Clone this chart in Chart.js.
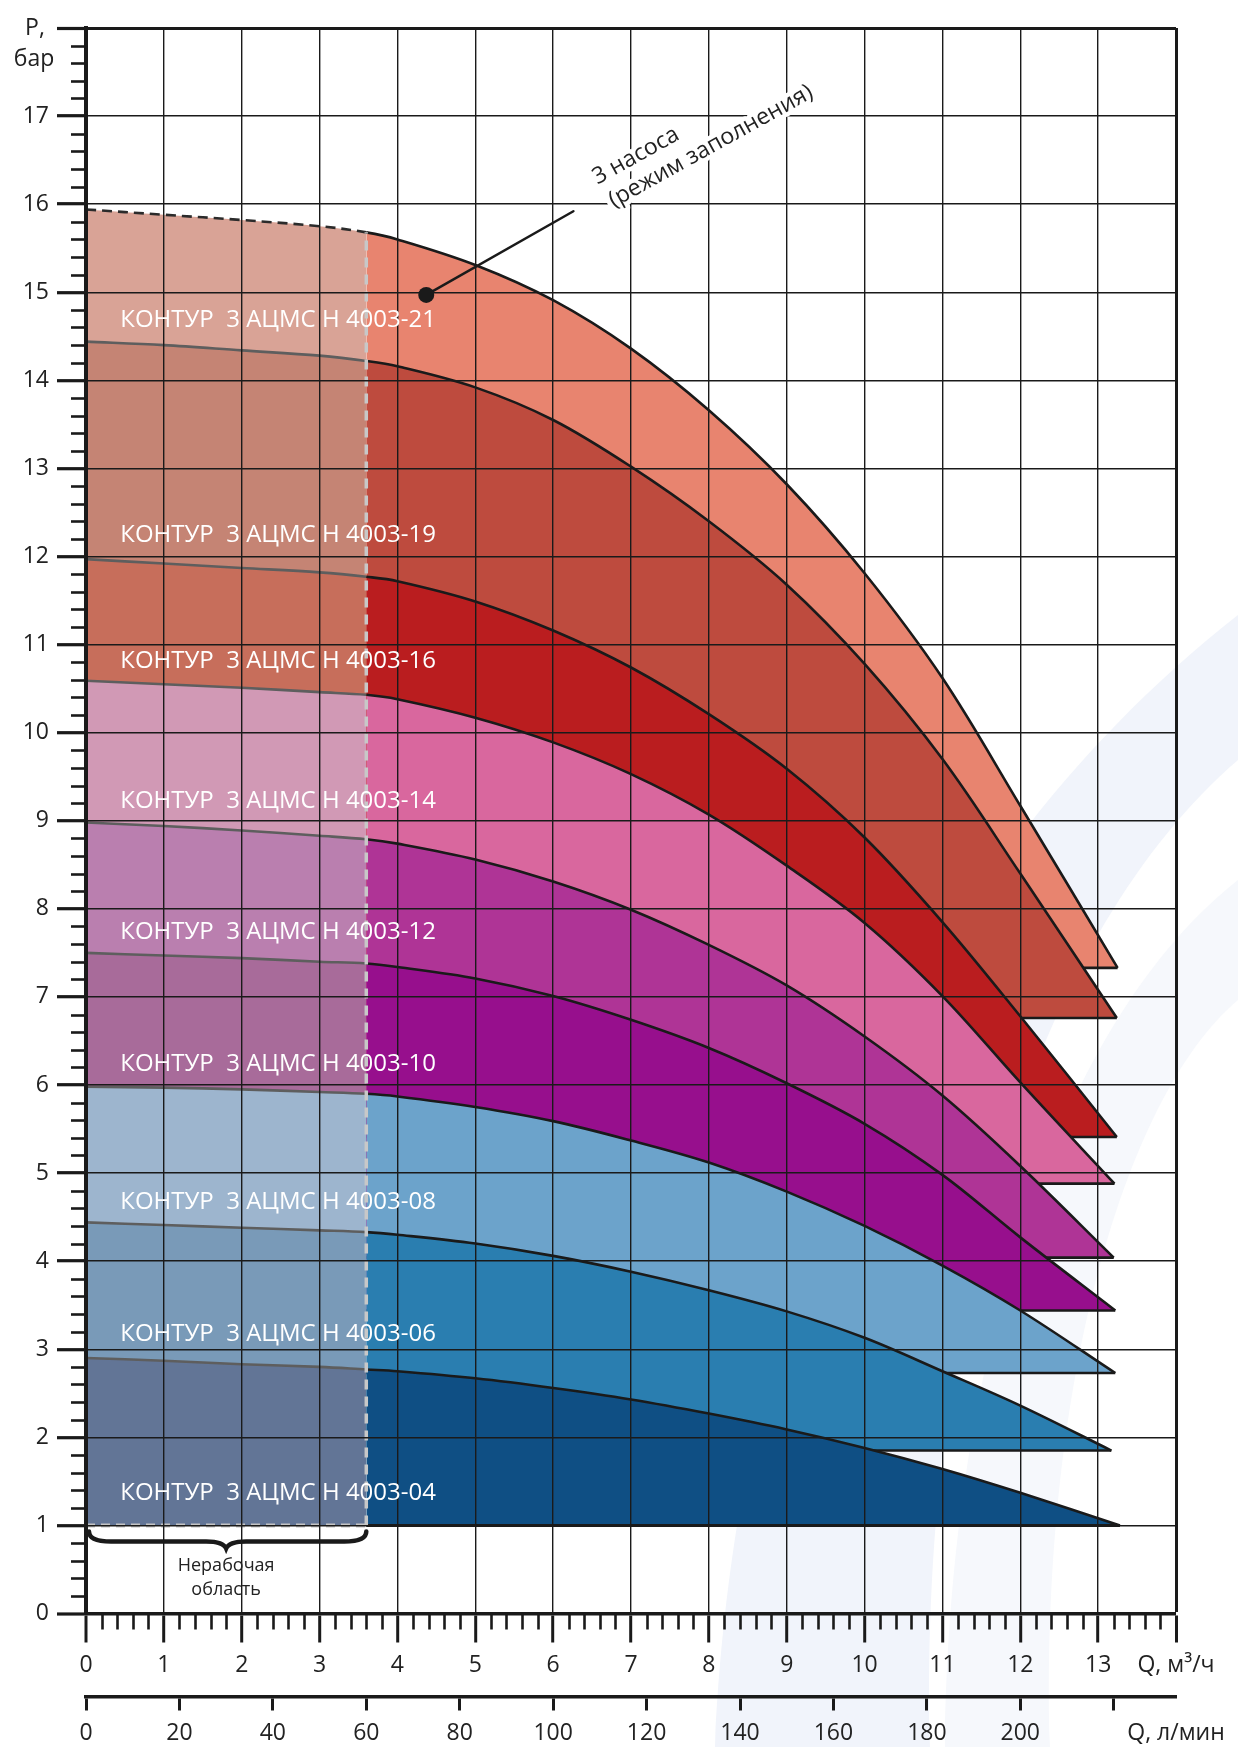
<!DOCTYPE html>
<html>
<head>
<meta charset="utf-8">
<script src="https://cdn.jsdelivr.net/npm/chart.js@4/dist/chart.umd.min.js"></script>
<style>
html, body { margin: 0; padding: 0; background: #fff; }
#wrap { position: relative; width: 1238px; height: 1747px; }
</style>
</head>
<body>
<div id="wrap"><canvas id="c"></canvas></div>
<script>
// ---- data ----
const flowQ = [0, 1, 2, 3, 3.6, 4, 5, 6, 7, 8, 9, 10, 11, 12];           // Q, m3/h
const p04 = [2.90, 2.87, 2.83, 2.80, 2.77, 2.75, 2.67, 2.56, 2.43, 2.27, 2.09, 1.88, 1.64, 1.37];
const p06 = [4.44, 4.41, 4.38, 4.35, 4.33, 4.30, 4.20, 4.06, 3.88, 3.67, 3.43, 3.13, 2.75, 2.36];
const p08 = [5.98, 5.97, 5.95, 5.92, 5.90, 5.87, 5.75, 5.59, 5.37, 5.12, 4.79, 4.40, 3.95, 3.44];
const p10 = [7.50, 7.47, 7.44, 7.40, 7.38, 7.34, 7.21, 7.01, 6.74, 6.42, 6.02, 5.56, 4.98, 4.27];
const p12 = [8.98, 8.94, 8.89, 8.83, 8.79, 8.74, 8.56, 8.31, 7.99, 7.59, 7.13, 6.55, 5.88, 5.08];
const p14 = [10.59, 10.55, 10.51, 10.46, 10.43, 10.38, 10.17, 9.89, 9.53, 9.07, 8.49, 7.84, 7.01, 6.03];
const p16 = [11.97, 11.92, 11.87, 11.82, 11.77, 11.72, 11.49, 11.16, 10.74, 10.21, 9.59, 8.81, 7.85, 6.78];
const p19 = [14.44, 14.40, 14.34, 14.28, 14.22, 14.16, 13.92, 13.55, 13.02, 12.40, 11.68, 10.78, 9.70, 8.40];
const p21 = [15.94, 15.88, 15.82, 15.75, 15.68, 15.60, 15.31, 14.91, 14.36, 13.66, 12.82, 11.81, 10.62, 9.17];
const endQ = [13.28, 13.17, 13.22, 13.22, 13.20, 13.21, 13.24, 13.24, 13.25];
const endP = [1.00, 1.85, 2.73, 3.44, 4.04, 4.88, 5.41, 6.76, 7.33];
const bandLabels = [
  'КОНТУР  3 АЦМС Н 4003-04', 'КОНТУР  3 АЦМС Н 4003-06', 'КОНТУР  3 АЦМС Н 4003-08',
  'КОНТУР  3 АЦМС Н 4003-10', 'КОНТУР  3 АЦМС Н 4003-12', 'КОНТУР  3 АЦМС Н 4003-14',
  'КОНТУР  3 АЦМС Н 4003-16', 'КОНТУР  3 АЦМС Н 4003-19', 'КОНТУР  3 АЦМС Н 4003-21'
];
const labelQ = 0.44;
const labelP = [1.37, 3.17, 4.67, 6.24, 7.74, 9.22, 10.81, 12.24, 14.68];
const workStart = 3.6;        // m3/h, start of working range
const minP = 1;               // bar, lower limit
const qTicks = [0, 1, 2, 3, 4, 5, 6, 7, 8, 9, 10, 11, 12, 13, 14];
const pTicks = [0, 1, 2, 3, 4, 5, 6, 7, 8, 9, 10, 11, 12, 13, 14, 15, 16, 17, 18];
const lpmTicks = [0, 20, 40, 60, 80, 100, 120, 140, 160, 180, 200, 220];
const lpmPerM3h = 1000 / 60;
const markerQ = 4.37, markerP = 14.97;
const leaderQ = 6.26, leaderP = 15.92;
const noteQ = 6.57, noteP = 16.22;
const noteLines = ['3 насоса', '(режим заполнения)'];

const rightColors = ['#0F4F84', '#2A7EB0', '#6CA3CB', '#970F8D', '#AF3496', '#D9679E', '#BA1D1F', '#BE4B3E', '#E8846F'];
const leftColors  = ['#627596', '#799AB8', '#9DB5CE', '#A86B9A', '#BA7FAF', '#D199B5', '#C76E5B', '#C58474', '#D9A396'];

const series = [p04, p06, p08, p10, p12, p14, p16, p19, p21];
const FONT = '"Open Sans", "Noto Sans", sans-serif';
const INK = '#1a1a1a';

const datasets = [];
series.forEach((s, i) => {
  const pts = flowQ.map((q, k) => ({ x: q, y: s[k] }));
  pts.push({ x: endQ[i], y: endP[i] });
  const isTop = i === series.length - 1;
  datasets.push({
    type: 'line',
    data: pts,
    order: 20 + 2 * i + 1,
    fill: { value: endP[i] },
    backgroundColor: rightColors[i],
    borderColor: INK,
    borderWidth: 2.6,
    pointRadius: 0,
    tension: 0.35,
    segment: {
      backgroundColor: c => c.p1.parsed.x <= workStart ? leftColors[i] : rightColors[i],
      borderColor: c => c.p1.parsed.x <= workStart ? (isTop ? '#2b2b2b' : '#5e5e5e') : INK,
      borderDash: c => (isTop && c.p1.parsed.x <= workStart) ? [10, 6] : undefined
    }
  });
  if (i > 0) {
    datasets.push({
      type: 'line',
      data: [{ x: workStart, y: endP[i] }, { x: endQ[i], y: endP[i] }],
      order: 20 + 2 * i,
      borderColor: INK, borderWidth: 2.6, pointRadius: 0, fill: false
    });
  }
});
// bottom edge of the lowest band
datasets.push({
  type: 'line', data: [{ x: workStart, y: minP }, { x: endQ[0], y: minP }],
  order: 3, borderColor: INK, borderWidth: 3, pointRadius: 0, fill: false
});
datasets.push({
  type: 'line', data: [{ x: 0, y: minP }, { x: workStart, y: minP }],
  order: 2, borderColor: '#c4c4c4', borderWidth: 4, borderDash: [9, 6], pointRadius: 0, fill: false
});
// boundary of non-working zone
datasets.push({
  type: 'line', data: [{ x: workStart, y: minP }, { x: workStart, y: p21[flowQ.indexOf(workStart)] }],
  order: 1, borderColor: '#c8c8c8', borderWidth: 3.5, borderDash: [10, 7], pointRadius: 0, fill: false
});

const decor = {
  id: 'decor',
  beforeDraw(chart) {
    const { ctx, width, height } = chart;
    ctx.save();
    ctx.fillStyle = '#fff';
    ctx.fillRect(0, 0, width, height);
    // faint background watermark swoosh
    ctx.fillStyle = '#f1f4fb';
    ctx.beginPath();
    ctx.moveTo(715, height);
    ctx.bezierCurveTo(735, 1300, 900, 880, width, 615);
    ctx.lineTo(width, 760);
    ctx.bezierCurveTo(1040, 930, 920, 1300, 930, height);
    ctx.closePath();
    ctx.fill();
    ctx.fillStyle = '#f6f8fc';
    ctx.beginPath();
    ctx.moveTo(945, height);
    ctx.bezierCurveTo(950, 1350, 1060, 1020, width, 880);
    ctx.lineTo(width, 1000);
    ctx.bezierCurveTo(1120, 1100, 1040, 1400, 1050, height);
    ctx.closePath();
    ctx.fill();
    ctx.restore();
  },
  afterDraw(chart) {
    const { ctx, chartArea: a } = chart;
    const x = chart.scales.x, y = chart.scales.y;
    ctx.save();
    // minor ticks
    ctx.strokeStyle = INK;
    ctx.lineWidth = 2.6;
    for (let k = 1; k < 90; k++) {
      if (k % 5 === 0) continue;
      const py = Math.round(y.getPixelForValue(k * 0.2)) + 0.5;
      ctx.beginPath(); ctx.moveTo(a.left - 15, py); ctx.lineTo(a.left, py); ctx.stroke();
    }
    for (let k = 1; k < 70; k++) {
      if (k % 5 === 0) continue;
      const px = Math.round(x.getPixelForValue(k * 0.2)) + 0.5;
      ctx.beginPath(); ctx.moveTo(px, a.bottom); ctx.lineTo(px, a.bottom + 16); ctx.stroke();
    }
    // band labels
    ctx.fillStyle = '#ffffff';
    ctx.font = '24px ' + FONT;
    ctx.textAlign = 'left';
    ctx.textBaseline = 'middle';
    bandLabels.forEach((t, i) => ctx.fillText(t, x.getPixelForValue(labelQ), y.getPixelForValue(labelP[i])));
    // axis title P, бар
    ctx.fillStyle = '#222';
    ctx.font = '23px ' + FONT;
    ctx.textAlign = 'center';
    const ty = y.getPixelForValue(18);
    ctx.fillText('P,', a.left - 51, ty);
    ctx.fillText('бар', a.left - 52, ty + 31);
    // brace under the non-working zone
    const L = x.getPixelForValue(0) + 3, R = x.getPixelForValue(workStart), M = x.getPixelForValue(workStart / 2);
    const y0 = y.getPixelForValue(minP) + 6;
    ctx.strokeStyle = INK;
    ctx.lineWidth = 4.5;
    ctx.lineCap = 'round';
    ctx.beginPath();
    ctx.moveTo(L, y0);
    ctx.quadraticCurveTo(L, y0 + 10, L + 22, y0 + 10);
    ctx.lineTo(M - 20, y0 + 10);
    ctx.quadraticCurveTo(M - 3, y0 + 10, M, y0 + 17);
    ctx.quadraticCurveTo(M + 3, y0 + 10, M + 20, y0 + 10);
    ctx.lineTo(R - 22, y0 + 10);
    ctx.quadraticCurveTo(R, y0 + 10, R, y0);
    ctx.stroke();
    ctx.fillStyle = '#222';
    ctx.font = '18px ' + FONT;
    ctx.textBaseline = 'middle';
    ctx.fillText('Нерабочая', M, y.getPixelForValue(0.54));
    ctx.fillText('область', M, y.getPixelForValue(0.27));
    // annotation
    const mx = x.getPixelForValue(markerQ), my = y.getPixelForValue(markerP);
    ctx.strokeStyle = INK;
    ctx.lineWidth = 2.5;
    ctx.beginPath(); ctx.moveTo(mx, my); ctx.lineTo(x.getPixelForValue(leaderQ), y.getPixelForValue(leaderP)); ctx.stroke();
    ctx.fillStyle = INK;
    ctx.beginPath(); ctx.arc(mx, my, 8, 0, Math.PI * 2); ctx.fill();
    ctx.translate(x.getPixelForValue(noteQ), y.getPixelForValue(noteP));
    ctx.rotate(-29 * Math.PI / 180);
    ctx.font = '23px ' + FONT;
    ctx.textAlign = 'left';
    ctx.textBaseline = 'alphabetic';
    ctx.lineJoin = 'round';
    ctx.strokeStyle = '#fff';
    ctx.lineWidth = 9;
    ctx.strokeText(noteLines[0], 0, 0);
    ctx.strokeText(noteLines[1], 3, 28);
    ctx.fillStyle = '#222';
    ctx.fillText(noteLines[0], 0, 0);
    ctx.fillText(noteLines[1], 3, 28);
    ctx.restore();
  }
};

const tickFont = { family: FONT, size: 23 };

new Chart(document.getElementById('c'), {
  type: 'line',
  data: { datasets },
  options: {
    responsive: true,
    maintainAspectRatio: false,
    animation: false,
    events: [],
    layout: { padding: { top: 28, right: 62, bottom: 0, left: 0 } },
    plugins: { legend: { display: false }, tooltip: { enabled: false } },
    scales: {
      x: {
        type: 'linear', position: 'bottom', min: 0, max: 14, weight: 0,
        afterBuildTicks: s => { s.ticks = qTicks.map(v => ({ value: v })); },
        afterFit: s => { s.height = 83; },
        grid: {
          z: 1, color: INK,
          lineWidth: c => (c.tick && c.tick.value === 14) ? 3 : ((c.tick && c.tick.value === 0) ? 0 : 1.4),
          drawTicks: true, tickLength: 29, tickWidth: 3, tickColor: INK
        },
        border: { display: true, width: 3.5, color: INK, z: 2 },
        ticks: {
          autoSkip: false, maxRotation: 0, minRotation: 0, padding: 9, color: '#222', font: tickFont,
          callback: v => v === 14 ? 'Q, м³/ч' : String(v)
        }
      },
      x2: {
        type: 'linear', position: 'bottom', min: 0, max: 14 * lpmPerM3h, weight: 1,
        afterBuildTicks: s => { s.ticks = lpmTicks.map(v => ({ value: v })).concat([{ value: 14 * lpmPerM3h }]); },
        afterFit: s => { s.height = 50.5; },
        grid: {
          display: true, drawOnChartArea: false, drawTicks: true, tickLength: 14, tickWidth: 3,
          tickColor: c => (c.tick && c.tick.value > 230) ? 'rgba(0,0,0,0)' : INK
        },
        border: { display: true, width: 3.5, color: INK },
        ticks: {
          autoSkip: false, maxRotation: 0, minRotation: 0, padding: 9, color: '#222', font: tickFont,
          callback: v => v > 230 ? 'Q, л/мин' : (v === 220 ? '' : String(v))
        }
      },
      y: {
        type: 'linear', position: 'left', min: 0, max: 18,
        afterBuildTicks: s => { s.ticks = pTicks.map(v => ({ value: v })); },
        afterFit: s => { s.width = 86; },
        grid: {
          z: 1, color: INK,
          lineWidth: c => (c.tick && c.tick.value === 18) ? 3 : ((c.tick && c.tick.value === 0) ? 0 : 1.4),
          drawTicks: true, tickLength: 29, tickWidth: 3.2, tickColor: INK
        },
        border: { display: true, width: 4, color: INK, z: 2 },
        ticks: {
          autoSkip: false, padding: 8, color: '#222', font: tickFont,
          callback: v => v === 18 ? '' : String(v)
        }
      }
    }
  },
  plugins: [decor]
});
</script>
</body>
</html>
